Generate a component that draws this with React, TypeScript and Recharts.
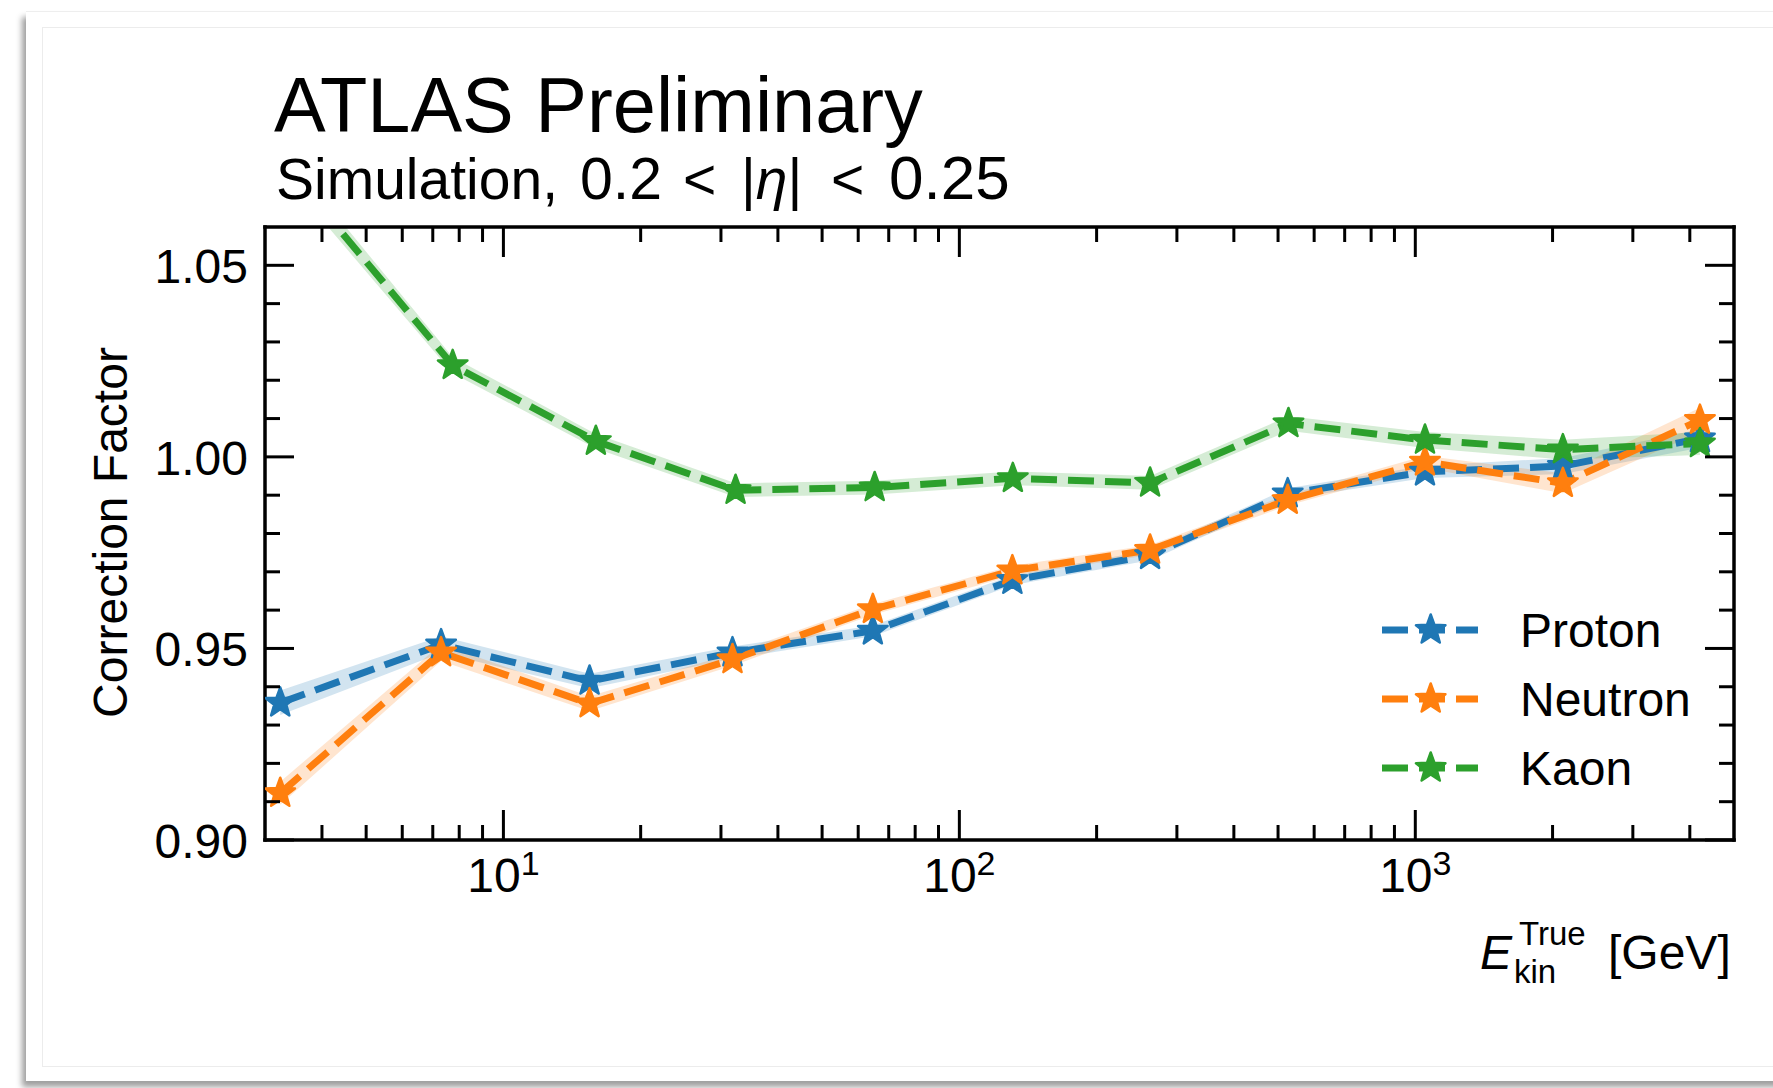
import React from "react";
import { ComposedChart, Line, Area, XAxis, YAxis, Legend } from "recharts";

const FONT = '"Liberation Sans", Arial, Helvetica, sans-serif';

// true kinetic energy of each point [GeV]
const energyNucleon = [3.24, 7.3, 15.45, 31.8, 64.6, 130.7, 262, 525, 1050, 2107, 4210];
const energyKaon = [3.5, 7.74, 15.95, 32.3, 65.2, 131, 262, 527, 1050, 2107, 4210];

// correction factors and band half-widths
const protonCF = [0.9358, 0.951, 0.9415, 0.9489, 0.9546, 0.9678, 0.9743, 0.9904, 0.9961, 0.9976, 1.0048];
const protonErr = [0.0032, 0.0022, 0.0019, 0.0016, 0.0014, 0.0013, 0.0013, 0.0014, 0.0016, 0.0021, 0.0024];
const neutronCF = [0.9122, 0.9489, 0.9356, 0.9471, 0.9602, 0.9703, 0.9757, 0.9887, 0.9987, 0.9931, 1.0096];
const neutronErr = [0.003, 0.0022, 0.0019, 0.0016, 0.0014, 0.0013, 0.0013, 0.0014, 0.0016, 0.0026, 0.0032];
const kaonCF = [1.073, 1.0239, 1.0041, 0.9913, 0.992, 0.9944, 0.9932, 1.0087, 1.0044, 1.0019, 1.0035];
const kaonErr = [0.003, 0.0021, 0.0019, 0.0018, 0.0018, 0.0018, 0.0018, 0.0019, 0.0021, 0.0026, 0.003];

const seriesNames = ["Proton", "Neutron", "Kaon"];
const seriesColors = ["#1f77b4", "#ff7f0e", "#2ca02c"];

// axis ticks
const xTicks = [4, 5, 6, 7, 8, 9, 10, 20, 30, 40, 50, 60, 70, 80, 90, 100, 200, 300, 400, 500, 600, 700, 800, 900, 1000, 2000, 3000, 4000];
const xMajor = [10, 100, 1000];
const xMajorExp = ["1", "2", "3"];
const yTicks = [0.9, 0.91, 0.92, 0.93, 0.94, 0.95, 0.96, 0.97, 0.98, 0.99, 1.0, 1.01, 1.02, 1.03, 1.04, 1.05];
const yMajor = [0.9, 0.95, 1.0, 1.05];
const yMajorLabels = ["0.90", "0.95", "1.00", "1.05"];

const build = (e: number[], cf: number[], err: number[]) =>
  e.map((x, i) => ({ e: x, cf: cf[i], band: [cf[i] - err[i], cf[i] + err[i]] }));

const series = [
  build(energyNucleon, protonCF, protonErr),
  build(energyNucleon, neutronCF, neutronErr),
  build(energyKaon, kaonCF, kaonErr),
].map((data, i) => ({ name: seriesNames[i], color: seriesColors[i], data }));

const frame = { stroke: "#000", strokeWidth: 3.5, strokeLinecap: "square" as const };

function starPoints(cx: number, cy: number, R: number, r: number) {
  const pts: string[] = [];
  for (let i = 0; i < 10; i++) {
    const a = -Math.PI / 2 + (i * Math.PI) / 5;
    const rad = i % 2 === 0 ? R : r;
    pts.push(`${cx + rad * Math.cos(a)},${cy + rad * Math.sin(a)}`);
  }
  return pts.join(" ");
}

function Star({ cx, cy, color }: { cx: number; cy: number; color: string }) {
  if (cx == null || cy == null) return null;
  return (
    <polygon
      points={starPoints(cx, cy, 15.5, 6.4)}
      fill={color}
      stroke={color}
      strokeWidth={2.5}
      strokeLinejoin="round"
    />
  );
}

const isIn = (arr: number[], v: number) => arr.findIndex((m) => Math.abs(m - v) < 1e-6);

function BottomTick(p: any) {
  const idx = isIn(xMajor, p.payload.value);
  const len = idx >= 0 ? 30 : 15;
  return (
    <g>
      <line x1={p.x} y1={p.y} x2={p.x} y2={p.y - len} stroke="#000" strokeWidth={3} />
      {idx >= 0 && (
        <text x={p.x} y={p.y + 52} textAnchor="middle" fontSize={48} fontFamily={FONT} fill="#000">
          10<tspan dy={-17} fontSize={34}>{xMajorExp[idx]}</tspan>
        </text>
      )}
    </g>
  );
}

function TopTick(p: any) {
  const len = isIn(xMajor, p.payload.value) >= 0 ? 30 : 15;
  return <line x1={p.x} y1={p.y} x2={p.x} y2={p.y + len} stroke="#000" strokeWidth={3} />;
}

function LeftTick(p: any) {
  const idx = isIn(yMajor, p.payload.value);
  const len = idx >= 0 ? 29 : 15;
  return (
    <g>
      <line x1={p.x} y1={p.y} x2={p.x + len} y2={p.y} stroke="#000" strokeWidth={3} />
      {idx >= 0 && (
        <text x={p.x - 17} y={p.y + 18} textAnchor="end" fontSize={48} fontFamily={FONT} fill="#000">
          {yMajorLabels[idx]}
        </text>
      )}
    </g>
  );
}

function RightTick(p: any) {
  const len = isIn(yMajor, p.payload.value) >= 0 ? 29 : 15;
  return <line x1={p.x} y1={p.y} x2={p.x - len} y2={p.y} stroke="#000" strokeWidth={3} />;
}

function LegendBody() {
  return (
    <svg width={400} height={220}>
      {series.map((s, i) => {
        const cy = 40 + 69 * i;
        return (
          <g key={s.name}>
            <line x1={12} y1={cy} x2={108} y2={cy} stroke={s.color} strokeWidth={7} strokeDasharray="26 11" />
            <Star cx={60.7} cy={cy} color={s.color} />
            <text x={150} y={cy + 17} fontSize={48} fontFamily={FONT} fill="#000">
              {s.name}
            </text>
          </g>
        );
      })}
    </svg>
  );
}

export default function App() {
  return (
    <div style={{ position: "absolute", left: 0, top: 0, width: 1773, height: 1088, background: "#fff", overflow: "hidden" }}>
      <div
        style={{
          position: "absolute", left: 26, top: 11, width: 1800, height: 1069, background: "#fff",
          borderTop: "1px solid #eeeeee", boxShadow: "-4px 6px 6px rgba(0,0,0,0.38)",
        }}
      />
      <div style={{ position: "absolute", left: 42, top: 27, width: 1800, height: 1038, border: "1px solid #ececec" }} />
      <div style={{ position: "absolute", left: 0, top: 0 }}>
        <ComposedChart width={1773} height={1088} margin={{ top: 226, right: 38, left: 85, bottom: 128 }}>
          <XAxis
            xAxisId="b" type="number" dataKey="e" scale="log" domain={[3, 5000]} allowDataOverflow
            ticks={xTicks} interval={0} height={120} tickSize={0} tickMargin={0}
            axisLine={frame} tickLine={false} tick={(p: any) => <BottomTick {...p} />}
          />
          <XAxis
            xAxisId="t" orientation="top" type="number" dataKey="e" scale="log" domain={[3, 5000]} allowDataOverflow
            ticks={xTicks} interval={0} height={1} tickSize={0} tickMargin={0}
            axisLine={frame} tickLine={false} tick={(p: any) => <TopTick {...p} />}
          />
          <YAxis
            yAxisId="l" type="number" domain={[0.9, 1.06]} allowDataOverflow
            ticks={yTicks} interval={0} width={180} tickSize={0} tickMargin={0}
            axisLine={frame} tickLine={false} tick={(p: any) => <LeftTick {...p} />}
          />
          <YAxis
            yAxisId="r" orientation="right" type="number" domain={[0.9, 1.06]} allowDataOverflow
            ticks={yTicks} interval={0} width={1} tickSize={0} tickMargin={0}
            axisLine={frame} tickLine={false} tick={(p: any) => <RightTick {...p} />}
          />
          {/* invisible series so the mirrored top/right axes get drawn */}
          <Line
            xAxisId="t" yAxisId="r" data={series[2].data} dataKey="cf" stroke="none" dot={false}
            activeDot={false} isAnimationActive={false} legendType="none"
          />
          {series.map((s) => (
            <React.Fragment key={s.name}>
              <Area
                xAxisId="b" yAxisId="l" data={s.data} dataKey="band" type="linear"
                stroke="none" fill={s.color} fillOpacity={0.2} isAnimationActive={false}
                legendType="none"
              />
              <Line
                xAxisId="b" yAxisId="l" data={s.data} dataKey="cf" name={s.name} type="linear"
                stroke={s.color} strokeWidth={7} strokeDasharray="26 11" isAnimationActive={false}
                activeDot={false}
                dot={(p: any) => <Star key={`${s.name}-${p.index}`} cx={p.cx} cy={p.cy} color={s.color} />}
              />
            </React.Fragment>
          ))}
          <Legend
            layout="vertical" align="center" verticalAlign="middle"
            wrapperStyle={{ left: 1370, top: 590, width: 400, height: 220 }}
            content={() => <LegendBody />}
          />
        </ComposedChart>
      </div>
      <svg width={1773} height={1088} style={{ position: "absolute", left: 0, top: 0, pointerEvents: "none" }}>
        <g fontFamily={FONT} fill="#000">
          <text x={274} y={132} fontSize={77.5}>ATLAS Preliminary</text>
          <text y={199} fontSize={57}>
            <tspan x={276}>Simulation,</tspan>
            <tspan x={580} fontSize={59}>0.2</tspan>
            <tspan x={683}>&lt;</tspan>
            <tspan x={741}>|</tspan>
            <tspan fontStyle="italic">η</tspan>
            <tspan>|</tspan>
            <tspan x={831}>&lt;</tspan>
            <tspan x={889} fontSize={62}>0.25</tspan>
          </text>
          <text transform="rotate(-90)" x={-532.5} y={126.5} textAnchor="middle" fontSize={48}>
            Correction Factor
          </text>
          <text y={969} fontSize={48}>
            <tspan x={1480} fontStyle="italic">E</tspan>
            <tspan x={1519} y={945} fontSize={33}>True</tspan>
            <tspan x={1514} y={983} fontSize={33}>kin</tspan>
            <tspan x={1608} y={969}>[GeV]</tspan>
          </text>
        </g>
      </svg>
    </div>
  );
}
